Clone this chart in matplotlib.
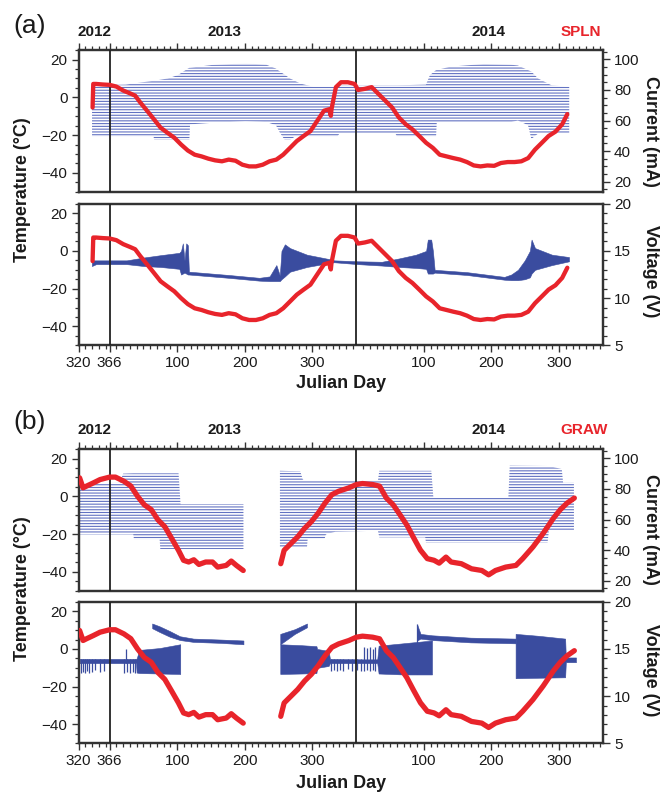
import matplotlib
matplotlib.use("Agg")
import matplotlib.pyplot as plt
import numpy as np
from matplotlib.ticker import FixedLocator, MultipleLocator

plt.rcParams['font.family'] = ['Liberation Sans', 'DejaVu Sans']
plt.rcParams['hatch.linewidth'] = 0.8

# ---------------- data (x = continuous day count: 2012 day d -> d, 2013 day d -> 366+d, 2014 day d -> 731+d)
xtick_pos = [320, 366, 466, 566, 666, 831, 931, 1031]
xtick_lab = ['320', '366', '100', '200', '300', '100', '200', '300']
year_bounds = [366, 731]

# SPLN temperature
spln_t_day = [340.8, 341.8, 345.9, 355.9, 366, 376, 386.1, 396.2, 403.8, 411.3, 421.4, 431.5, 441.5,
              451.6, 461.7, 471.7, 481.8, 491.9, 502, 512, 522.1, 532.2, 542.2, 552.3, 562.4, 572.4,
              582.5, 592.6, 602.7, 612.7, 622.8, 632.9, 642.9, 653, 663.1, 673.1, 683.2, 690.8, 693.3,
              694.3, 700.8, 708.4, 718.5, 728.5, 733.6, 743.7, 753.7, 763.8, 773.9, 784, 794, 804.1,
              814.1, 824.2, 834.3, 844.3, 854.4, 864.5, 874.5, 884.6, 894.7, 904.8, 914.8, 924.9, 935,
              945, 955.1, 965.2, 975.2, 985.3, 995.4, 1005.5, 1015.5, 1025.6, 1035.6, 1043.2]
spln_temp = [-5.4, 7.1, 7.1, 6.8, 6.6, 5.7, 3.6, 2.1, 0.9, -2.7, -7.1, -11.6, -16.1,
             -18.8, -21.4, -25.0, -28.2, -30.4, -31.3, -32.5, -33.4, -33.9, -33.0, -33.6, -35.7, -36.6,
             -36.6, -35.7, -33.9, -33.0, -30.4, -26.8, -23.2, -20.5, -17.9, -12.5, -7.1, -6.3, -9.8,
             -6.3, 5.4, 8.0, 8.0, 7.1, 3.9, 4.5, 5.4, 1.8, -1.8, -5.4, -10.7, -14.3,
             -17.0, -20.5, -24.1, -26.8, -30.4, -31.3, -32.2, -33.0, -34.3, -36.1, -36.6, -36.1, -36.3,
             -34.8, -34.3, -34.3, -33.9, -32.2, -27.7, -24.1, -20.5, -18.2, -14.3, -8.9]

# SPLN current envelope (mA)
spln_i_day = [340, 390, 431, 432, 452, 467, 482, 484, 485, 517, 567, 598, 612, 618, 625, 633, 640, 648,
              668, 703, 706, 734, 789, 791, 834, 840, 849, 850, 870, 920, 960, 970, 985, 990, 1000,
              1020, 1046]
spln_i_hi = [83, 83.5, 86, 86, 87.5, 89.7, 94, 94.5, 94.5, 96.3, 97.4, 96.5, 94, 92, 90, 87.5, 86, 84.2,
             82, 82, 83, 83, 83, 83, 83.5, 89.7, 93, 93, 95.2, 97, 96.5, 96, 93, 92, 87.5,
             83, 82]
spln_i_lo = [49.5, 49.5, 49.5, 47.4, 47.4, 47.4, 47.4, 47.4, 57.5, 58.5, 59.5, 59, 57, 52, 47.4, 47.4, 49.5, 49.5,
             49.5, 49.5, 51.5, 51.5, 51.5, 49.5, 49.5, 49.5, 49.5, 58.5, 58.5, 58.5, 59, 60, 57, 48, 51.5,
             51.5, 51.5]

# SPLN voltage band (V)
spln_v_day = [339.8, 346, 391.2, 416.4, 441.5, 469.2, 471.7, 474.3, 476.8, 479.3, 481.8, 483.3, 542.2,
              587.5, 602.7, 612.7, 617.8, 620.3, 625.3, 632.9, 658, 693.3, 698.3, 733.6, 768.8, 794,
              819.2, 834.3, 836.8, 841.8, 844.3, 846.9, 894.7, 950.1, 960.2, 970.2, 980.3, 987.8,
              990.3, 995.4, 1020.5, 1045.7]
spln_v_lo = [13.4, 13.6, 13.6, 13.4, 13.3, 13.1, 12.5, 12.6, 12.7, 12.6, 12.5, 12.5, 12.15,
             11.85, 11.8, 11.8, 11.8, 12.0, 12.3, 12.8, 13.3, 13.75, 13.8, 13.6, 13.45, 13.3,
             13.2, 13.1, 12.6, 12.6, 12.6, 12.7, 12.45, 11.95, 11.9, 11.9, 12.0, 12.2,
             12.6, 13.0, 13.5, 13.9]
spln_v_hi = [14.0, 14.0, 14.0, 14.3, 14.55, 14.8, 15.0, 15.8, 14.0, 15.8, 15.6, 12.8, 12.45,
             12.15, 12.3, 13.5, 12.4, 15.0, 15.7, 15.3, 14.6, 14.1, 14.0, 13.9, 13.85, 14.2,
             14.6, 15.0, 16.2, 16.2, 15.0, 13.0, 12.75, 12.25, 12.5, 13.0, 14.0, 15.0,
             16.2, 15.3, 14.6, 14.35]

# GRAW temperature (two records separated by a data gap)
graw_t_day1 = [321.6, 326.7, 331.7, 341.8, 351.9, 366, 374.6, 387.2, 397.3, 407.4, 417.4, 427.5, 437.6,
               447.7, 457.8, 467.9, 475.4, 483, 490.6, 498.1, 508.2, 518.3, 525.9, 538.5, 546, 553.6, 563.7]
graw_temp1 = [9.8, 4.5, 5.4, 7.1, 8.9, 10.2, 10.2, 8.0, 5.5, 0.0, -4.5, -7.0, -12.5,
              -16.1, -22.3, -28.6, -33.9, -34.8, -33.6, -36.1, -34.8, -34.8, -37.5, -36.6, -34.3, -36.6, -39.3]
graw_t_day2 = [619.2, 624.2, 634.3, 644.4, 654.4, 664.5, 674.6, 684.7, 694.8, 704.9, 720, 731, 740.2,
               755.3, 765.4, 775.5, 785.6, 795.7, 805.8, 815.9, 825.9, 836, 846.1, 853.6, 863.7, 871.3,
               886.4, 901.5, 916.7, 926.8, 936.9, 952, 967.2, 977.2, 992.4, 1007.5, 1022.6, 1032.7,
               1042.8, 1053.6]
graw_temp2 = [-35.7, -28.6, -25.0, -21.4, -17.0, -13.4, -8.9, -3.6, 0.9, 2.7, 4.5, 6.25, 6.8,
              6.25, 5.4, -0.9, -4.5, -9.8, -15.2, -22.0, -28.5, -33.0, -33.9, -35.4, -32.2, -34.8,
              -35.7, -38.4, -39.3, -41.6, -39.3, -37.5, -36.6, -33.0, -26.8, -19.6, -11.6, -7.1,
              -3.6, -0.9]

# GRAW current envelope (mA)
graw_i_day1 = [321, 381, 386, 401, 402, 440, 441, 468, 471, 564]
graw_i_hi1 = [83.5, 84, 90, 90.2, 90.2, 90.2, 90.2, 90.2, 70, 70]
graw_i_lo1 = [50.3, 50.3, 50.3, 50.3, 47.2, 47.2, 40.7, 40.7, 40.7, 40.7]
graw_i_day2 = [618, 648, 652, 658, 659, 684, 686, 700, 763, 765, 833, 834, 842, 845, 956, 958, 1014,
               1016, 1035, 1037, 1053]
graw_i_hi2 = [91.9, 91.5, 86, 85.4, 85.4, 85.4, 85.4, 85.4, 85.4, 91.9, 91.9, 91.9, 91.9, 74.5, 74.5,
              95.2, 95, 95, 93, 84, 84]
graw_i_lo2 = [41.8, 41.8, 41.8, 41.8, 47.3, 47.3, 50.3, 52, 52.7, 48.4, 48.4, 45, 45, 45, 45,
              45, 45, 52.7, 52.7, 52.7, 52.7]

# GRAW voltage: main band segments, high branch segments, and isolated spikes (V)
graw_v_day1 = [322, 405, 406, 410, 440, 470.5]
graw_v_lo1 = [13.5, 13.5, 12.5, 12.45, 12.4, 12.35]
graw_v_hi1 = [13.95, 13.95, 14.0, 14.9, 15.1, 15.5]
graw_v_day2 = [618.5, 650, 672, 673, 690, 692, 742, 762, 764, 800, 843]
graw_v_lo2 = [12.35, 12.4, 12.45, 13.0, 13.2, 13.5, 13.5, 13.5, 12.4, 12.3, 12.3]
graw_v_hi2 = [15.5, 15.4, 15.3, 15.0, 14.8, 13.95, 13.9, 13.9, 15.35, 15.6, 15.9]
graw_v_day3 = [966.7, 1000, 1040, 1041, 1056]
graw_v_lo3 = [11.9, 11.95, 12.0, 13.6, 13.6]
graw_v_hi3 = [16.6, 16.4, 16.1, 14.1, 14.1]
graw_vh_day1 = [429, 440, 455, 470, 490, 530, 564]
graw_vh_lo1 = [17.2, 16.8, 16.3, 15.95, 15.75, 15.65, 15.5]
graw_vh_hi1 = [17.7, 17.4, 16.9, 16.35, 16.1, 16.0, 15.9]
graw_vh_day2 = [618.5, 640, 658]
graw_vh_lo2 = [15.5, 16.6, 17.3]
graw_vh_hi2 = [16.6, 17.1, 17.7]
graw_vh_day3 = [821, 826, 843, 900, 966.7]
graw_vh_lo3 = [15.9, 16.1, 15.95, 15.7, 15.6]
graw_vh_hi3 = [17.6, 16.6, 16.45, 16.2, 16.1]
graw_spike_day = [323, 326, 329, 332, 336, 340, 344, 352, 358, 388, 390, 392, 396, 400, 404,
                  694, 698, 703, 707, 712, 718, 725, 732, 738, 743, 747, 751, 755, 759, 821]
graw_spike_lo = [12.5, 12.6, 12.5, 12.7, 12.5, 12.6, 12.8, 12.6, 12.7, 12.5, 13.5, 12.6, 12.5, 12.6, 12.5,
                 12.7, 12.8, 12.7, 12.8, 12.7, 12.9, 12.7, 12.8, 12.7, 12.7, 12.8, 12.7, 12.8, 12.7, 12.3]
graw_spike_hi = [13.9, 13.9, 13.9, 13.9, 13.9, 13.9, 13.9, 13.9, 13.9, 13.9, 15.0, 13.9, 13.9, 13.9, 13.9,
                 13.9, 13.9, 13.9, 13.9, 13.9, 13.9, 13.9, 13.9, 13.9, 15.2, 15.1, 15.2, 15.0, 15.2, 17.66]

# ---------------- styling
RED = '#e8242b'
VBLUE = '#3a4c9f'
IBLUE = '#6272c2'
FRAME = '#333333'
TXT = '#1a1a1a'

fig = plt.figure(figsize=(6.7, 7.95), dpi=100)
W_PX, H_PX = 670.0, 795.0
L, W, H = 0.1172, 0.7828, 0.178

minor_x = [330, 340, 350, 360] + list(range(376, 731, 10)) + list(range(741, 1096, 10))


def style_axes(axL, axR, top_panel):
    axL.set_xlim(320, 1096)
    axL.set_ylim(-50, 25)
    axL.xaxis.set_major_locator(FixedLocator(xtick_pos))
    axL.xaxis.set_minor_locator(FixedLocator(minor_x))
    axL.set_xticklabels(xtick_lab)
    axL.yaxis.set_major_locator(FixedLocator([-40, -20, 0, 20]))
    axL.yaxis.set_minor_locator(MultipleLocator(5))
    axL.set_yticklabels(['\u221240', '\u221220', '0', '20'])
    if top_panel:
        axR.set_ylim(13.5, 106)
        axR.yaxis.set_major_locator(FixedLocator([20, 40, 60, 80, 100]))
        axR.yaxis.set_minor_locator(MultipleLocator(5))
        axL.tick_params(axis='x', which='both', bottom=False, labelbottom=False,
                        top=True, labeltop=False)
    else:
        axR.set_ylim(5, 20)
        axR.yaxis.set_major_locator(FixedLocator([5, 10, 15, 20]))
        axR.yaxis.set_minor_locator(MultipleLocator(1))
        axL.tick_params(axis='x', which='both', bottom=True, labelbottom=True, top=False)
    for ax in (axL, axR):
        ax.tick_params(which='major', length=5, width=1.0, color=FRAME, labelsize=11,
                       labelcolor=TXT, direction='out', pad=3)
        ax.tick_params(which='minor', length=2.8, width=0.9, color=FRAME, direction='out')
        for sp in ax.spines.values():
            sp.set_linewidth(1.6)
            sp.set_color(FRAME)
    for xb in year_bounds:
        axL.axvline(xb, color='#222222', lw=1.3, zorder=3)


def make_pair(btop, bbot):
    a1 = fig.add_axes([L, btop, W, H])
    r1 = a1.twinx()
    a1.set_zorder(r1.get_zorder() + 1)
    a1.patch.set_visible(False)
    a2 = fig.add_axes([L, bbot, W, H])
    r2 = a2.twinx()
    a2.set_zorder(r2.get_zorder() + 1)
    a2.patch.set_visible(False)
    style_axes(a1, r1, True)
    style_axes(a2, r2, False)
    return a1, r1, a2, r2


def hatch_fill(ax, d, lo, hi):
    ax.fill_between(d, lo, hi, facecolor='none', edgecolor=IBLUE, hatch='------', linewidth=0)


def vband(ax, d, lo, hi):
    ax.fill_between(d, lo, hi, facecolor=VBLUE, edgecolor=VBLUE, linewidth=0.4)


# ---- panel (a): SPLN
a1, r1, a2, r2 = make_pair(0.7589, 0.5657)
hatch_fill(r1, spln_i_day, spln_i_lo, spln_i_hi)
a1.plot(spln_t_day, spln_temp, color=RED, lw=3.1, solid_capstyle='round', zorder=4)
vband(r2, spln_v_day, spln_v_lo, spln_v_hi)
a2.plot(spln_t_day, spln_temp, color=RED, lw=3.1, solid_capstyle='round', zorder=4)

# ---- panel (b): GRAW
b1, s1, b2, s2 = make_pair(0.2570, 0.0650)
hatch_fill(s1, graw_i_day1, graw_i_lo1, graw_i_hi1)
hatch_fill(s1, graw_i_day2, graw_i_lo2, graw_i_hi2)
for ax in (b1, b2):
    ax.plot(graw_t_day1, graw_temp1, color=RED, lw=3.8, solid_capstyle='round', zorder=4)
    ax.plot(graw_t_day2, graw_temp2, color=RED, lw=3.8, solid_capstyle='round', zorder=4)
vband(s2, graw_v_day1, graw_v_lo1, graw_v_hi1)
vband(s2, graw_v_day2, graw_v_lo2, graw_v_hi2)
vband(s2, graw_v_day3, graw_v_lo3, graw_v_hi3)
vband(s2, graw_vh_day1, graw_vh_lo1, graw_vh_hi1)
vband(s2, graw_vh_day2, graw_vh_lo2, graw_vh_hi2)
vband(s2, graw_vh_day3, graw_vh_lo3, graw_vh_hi3)
s2.vlines(graw_spike_day, graw_spike_lo, graw_spike_hi, color=VBLUE, lw=0.9)


# ---------------- text
def ftext(xp, yp, s, **kw):
    fig.text(xp / W_PX, 1 - yp / H_PX, s, **kw)


for y0, tag, station, st_x in [(0, '(a)', 'SPLN', 580.5), (397, '(b)', 'GRAW', 584)]:
    ftext(30, y0 + 25.5, tag, fontsize=19, ha='center', va='center', color=TXT)
    for xp, yr in [(95, '2012'), (224.5, '2013'), (489, '2014')]:
        ftext(xp, y0 + 32.5, yr, fontsize=11, fontweight='bold', ha='center', va='center', color=TXT)
    ftext(st_x, y0 + 32.5, station, fontsize=11, fontweight='bold', ha='center', va='center', color=RED)

ftext(22.5, 190, 'Temperature (\u00b0C)', fontsize=13, fontweight='bold', rotation=90,
      ha='center', va='center', color=TXT)
ftext(22.5, 589, 'Temperature (\u00b0C)', fontsize=13, fontweight='bold', rotation=90,
      ha='center', va='center', color=TXT)
ftext(651, 131, 'Current (mA)', fontsize=13, fontweight='bold', rotation=270,
      ha='center', va='center', color=TXT)
ftext(651, 271.5, 'Voltage (V)', fontsize=13, fontweight='bold', rotation=270,
      ha='center', va='center', color=TXT)
ftext(651, 529, 'Current (mA)', fontsize=13, fontweight='bold', rotation=270,
      ha='center', va='center', color=TXT)
ftext(651, 670, 'Voltage (V)', fontsize=13, fontweight='bold', rotation=270,
      ha='center', va='center', color=TXT)
ftext(341, 384, 'Julian Day', fontsize=13, fontweight='bold', ha='center', va='center', color=TXT)
ftext(341, 783, 'Julian Day', fontsize=13, fontweight='bold', ha='center', va='center', color=TXT)

fig.savefig('out.png', dpi=100)
